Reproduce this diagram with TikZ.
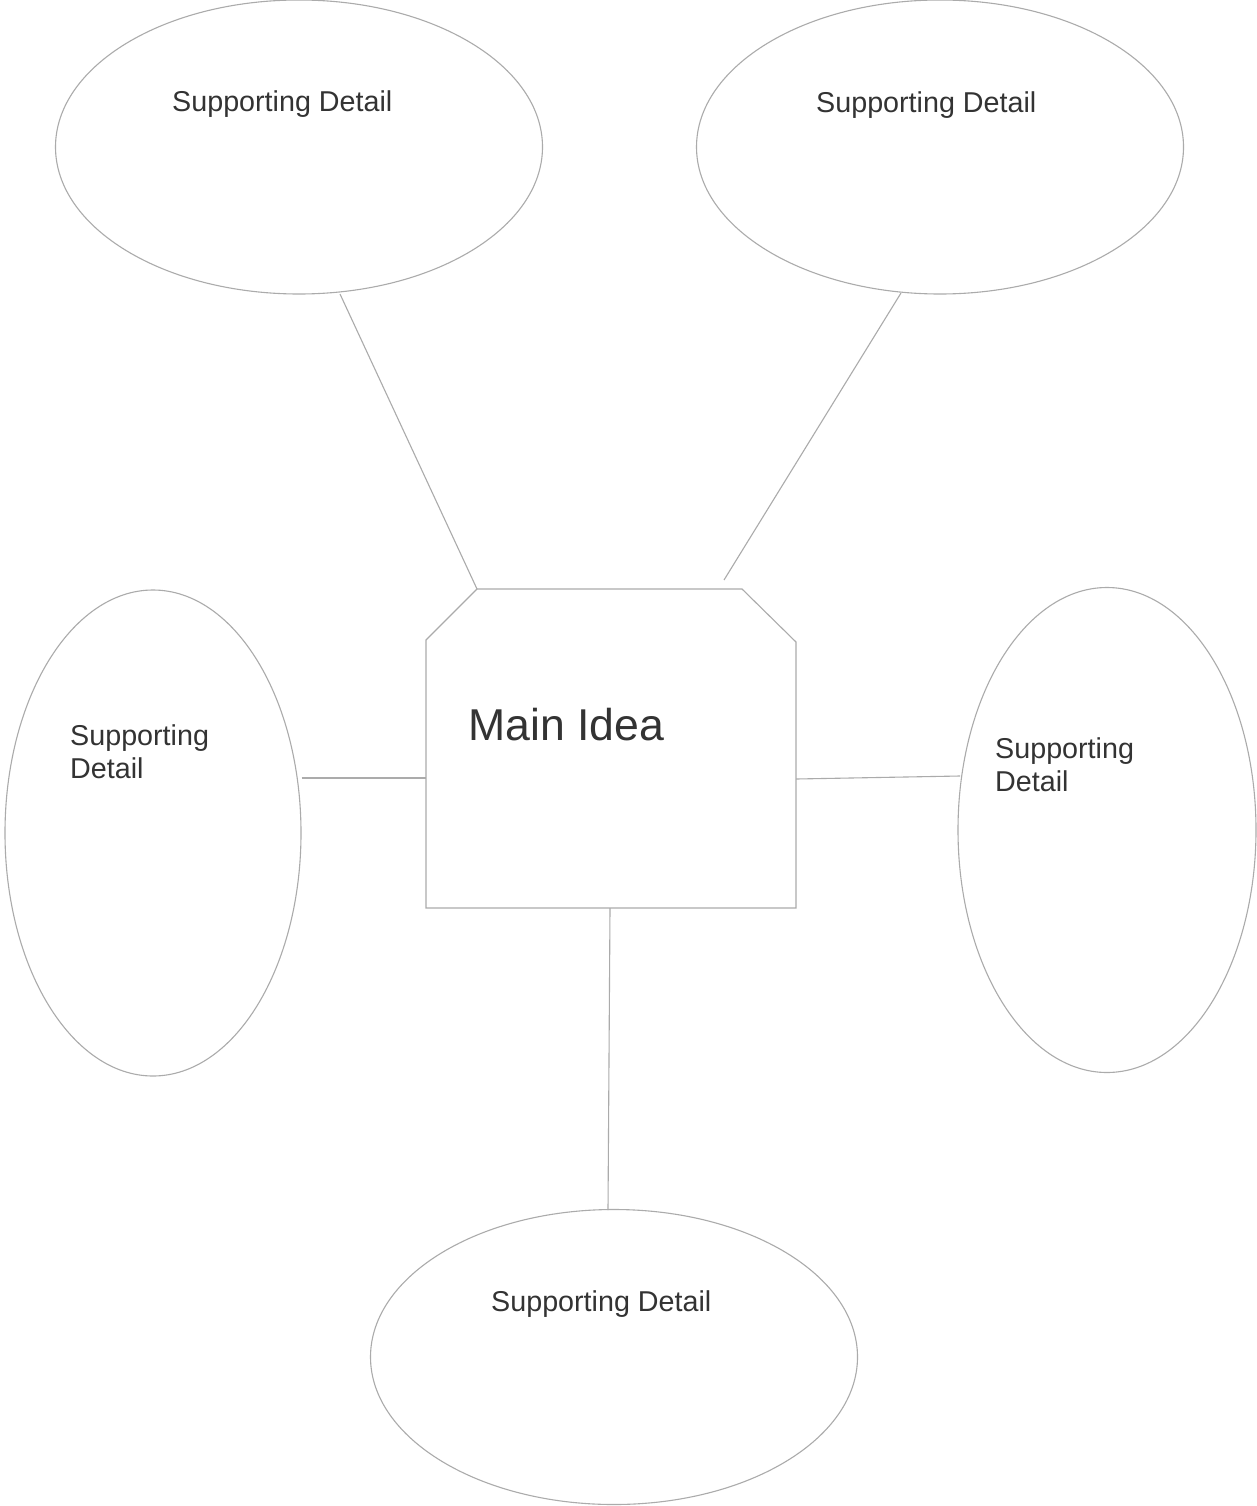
\documentclass[tikz,border=0pt]{standalone}
\usepackage{fontspec}
\setmainfont{Liberation Sans}
\usetikzlibrary{shapes.geometric,calc}
\definecolor{edge}{HTML}{ABABAB}
\definecolor{ink}{HTML}{333333}
\begin{document}
\begin{tikzpicture}[x=1pt,y=-1pt,
  bubble/.style={draw=edge,line width=1.1pt,ellipse,inner sep=0pt},
  link/.style={draw=edge,line width=1.1pt},
  detail/.style={inner sep=0pt,text=ink,font=\fontsize{28.7}{33}\selectfont,align=left},
  mainlabel/.style={inner sep=0pt,text=ink,font=\fontsize{44.6}{50}\selectfont}]
\useasboundingbox[fill=white] (0,0) rectangle (1257,1506);
% ellipses
\node[bubble,minimum width=487pt,minimum height=294pt] (tl) at (299,147) {};
\node[bubble,minimum width=487pt,minimum height=294pt] (tr) at (940,147) {};
\node[bubble,minimum width=296pt,minimum height=486pt] (lf) at (153,833) {};
\node[bubble,minimum width=298pt,minimum height=485pt] (rt) at (1107,830) {};
\node[bubble,minimum width=487pt,minimum height=295pt] (bt) at (614,1357) {};
% main box
\node[inner sep=0pt,minimum width=370pt,minimum height=319pt] (main) at (611,748.5) {};
\coordinate (m1) at (477,589);
\coordinate (m2) at (742,589);
\coordinate (m3) at (796,642);
\coordinate (m4) at (796,908);
\coordinate (m5) at (426,908);
\coordinate (m6) at (426,640);
\draw[link] (m1) -- (m2) -- (m3) -- (m4) -- (m5) -- (m6) -- cycle;
% texts
\node[detail,anchor=base west] (ttl) at (172,112) {Supporting Detail};
\node[detail,anchor=base west] (ttr) at (816,113) {Supporting Detail};
\node[detail,anchor=north west] (tlf) at (70,724) {Supporting\\Detail};
\node[detail,anchor=north west] (trt) at (995,737) {Supporting\\Detail};
\node[detail,anchor=base west] (tbt) at (491,1311) {Supporting Detail};
\node[mainlabel,anchor=base west] (tmain) at (468,740) {Main Idea};
% connectors
\coordinate (c1) at (340,294);
\coordinate (c2) at (901,293);
\coordinate (c3) at (724,580);
\coordinate (c4) at (608,1210);
\draw[link] (c1) -- (m1);
\draw[link] (c2) -- (c3);
\draw[link] (lf.east |- 0,778) -- (main.west |- 0,778);
\draw[link] (main.east |- 0,779) -- (960,776);
\draw[link] (610,908) -- (c4);
\end{tikzpicture}
\end{document}
